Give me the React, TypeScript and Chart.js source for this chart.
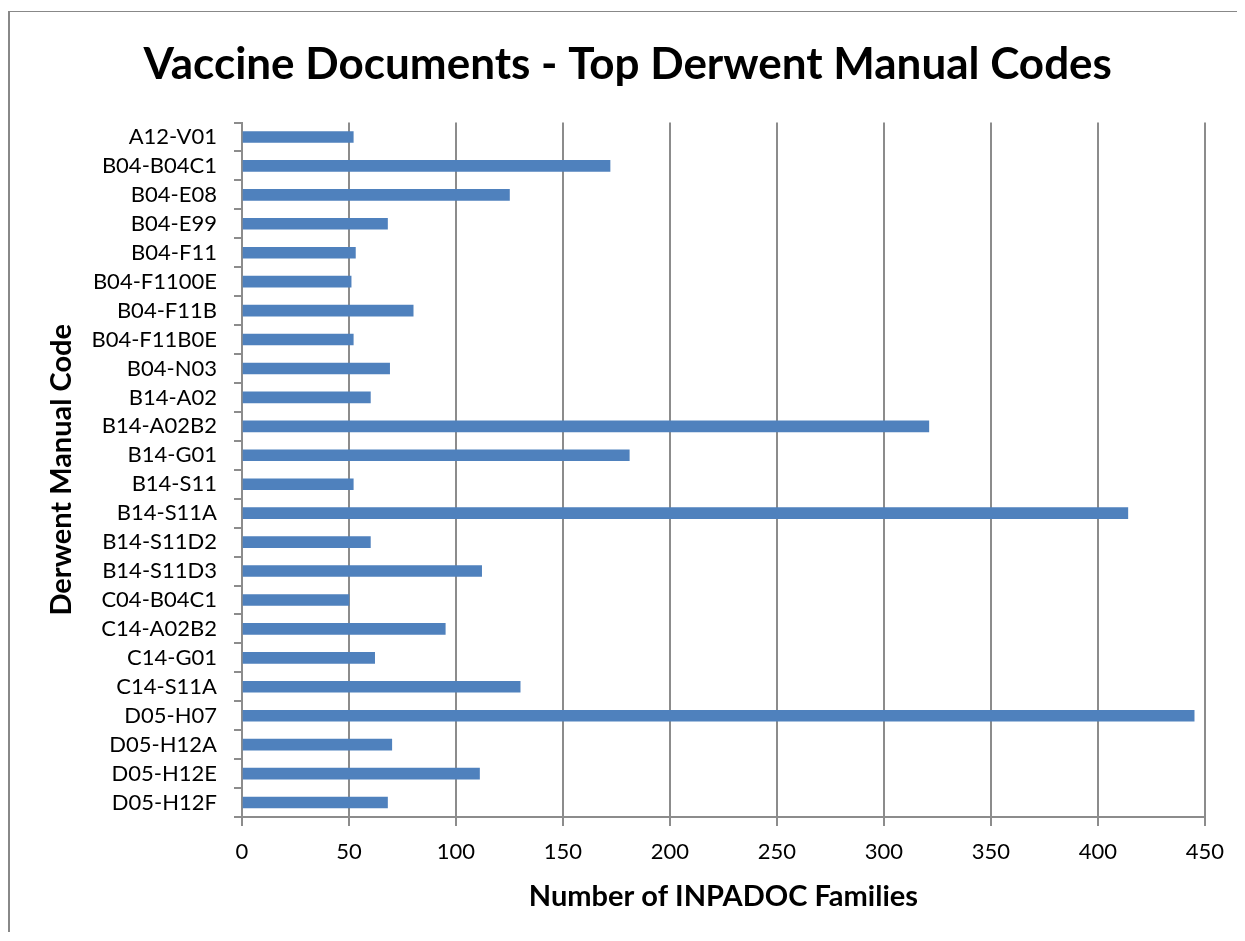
import React, { useEffect, useRef } from "react";
import { Chart, registerables } from "chart.js";

Chart.register(...registerables);

const categories = [
  "A12-V01", "B04-B04C1", "B04-E08", "B04-E99", "B04-F11", "B04-F1100E",
  "B04-F11B", "B04-F11B0E", "B04-N03", "B14-A02", "B14-A02B2", "B14-G01",
  "B14-S11", "B14-S11A", "B14-S11D2", "B14-S11D3", "C04-B04C1", "C14-A02B2",
  "C14-G01", "C14-S11A", "D05-H07", "D05-H12A", "D05-H12E", "D05-H12F",
];
const families = [
  52, 172, 125, 68, 53, 51,
  80, 52, 69, 60, 321, 181,
  52, 414, 60, 112, 50, 95,
  62, 130, 445, 70, 111, 68,
];
const xMin = 0;
const xMax = 450;
const xStep = 50;
const titleText = "Vaccine Documents - Top Derwent Manual Codes";
const xTitle = "Number of INPADOC Families";
const yTitle = "Derwent Manual Code";

const FONT = "Lato, 'Open Sans', sans-serif";
const GRID = "#8c8c8c";

export default function App() {
  const ref = useRef<HTMLCanvasElement | null>(null);
  useEffect(() => {
    if (!ref.current) return;
    const chart = new Chart(ref.current, {
      type: "bar",
      data: {
        labels: categories,
        datasets: [
          {
            data: families,
            backgroundColor: "#4F81BD",
            borderWidth: 0,
            barThickness: 11,
          },
        ],
      },
      options: {
        indexAxis: "y",
        responsive: false,
        animation: false,
        layout: { padding: { top: 31, left: 37.5, right: 29, bottom: 20.5 } },
        plugins: {
          legend: { display: false },
          tooltip: { enabled: false },
          title: {
            display: true,
            text: titleText,
            color: "#000",
            font: { family: FONT, size: 44, weight: "bold", lineHeight: 1 },
            padding: { top: 0, bottom: 35.5 },
          },
        },
        scales: {
          x: {
            min: xMin,
            max: xMax,
            afterFit: (s: any) => { s.height = 94.5; },
            ticks: {
              stepSize: xStep,
              color: "#000",
              padding: 13,
              font: { family: FONT, size: 22 },
            },
            grid: {
              color: GRID,
              lineWidth: 2,
              drawTicks: true,
              tickLength: 9,
            },
            border: { color: GRID, width: 2 },
            title: {
              display: true,
              text: xTitle,
              color: "#000",
              font: { family: FONT, size: 29, weight: "bold", lineHeight: 1 },
              padding: { top: 0, bottom: 0 },
            },
          },
          y: {
            afterFit: (s: any) => { s.width = 194.5; },
            ticks: {
              color: "#000",
              padding: 17,
              autoSkip: false,
              font: { family: FONT, size: 22 },
            },
            grid: {
              drawOnChartArea: false,
              drawTicks: true,
              tickLength: 8,
              color: GRID,
              lineWidth: 2,
            },
            border: { color: GRID, width: 2 },
            title: {
              display: true,
              text: yTitle,
              color: "#000",
              font: { family: FONT, size: 29, weight: "bold", lineHeight: 1 },
              padding: { top: 0, bottom: 0 },
            },
          },
        },
      },
    });
    return () => chart.destroy();
  }, []);
  return (
    <div style={{ paddingTop: 3 }}>
      <div style={{ borderLeft: "2px solid #888", borderTop: "1px solid #888" }}>
        <canvas ref={ref} width={1227} height={920} style={{ display: "block" }} />
      </div>
    </div>
  );
}
